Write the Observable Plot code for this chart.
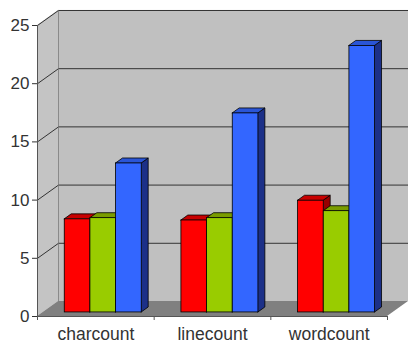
<!DOCTYPE html>
<html>
<head>
<meta charset="utf-8">
<script src="https://cdn.jsdelivr.net/npm/d3@7"></script>
<script src="https://cdn.jsdelivr.net/npm/@observablehq/plot@0.6"></script>
<style>
  html, body { margin: 0; padding: 0; background: #fff; }
</style>
</head>
<body>
<div id="chart"></div>
<script>
// ---- data ----
const categories = ["charcount", "linecount", "wordcount"];
const seriesRed = [8.0, 7.9, 9.6];
const seriesGreen = [8.1, 8.1, 8.7];
const seriesBlue = [12.8, 17.1, 22.9];
const yTicks = [0, 5, 10, 15, 20, 25];

// ---- styling / geometry (data units) ----
const frontColors = ["#ff0000", "#99cc00", "#3366ff"];
const topColors = ["#c80000", "#7a9c00", "#2a55d6"];
const sideColors = ["#960000", "#5a7400", "#1c3088"];
const DX = 0.18, DY = 1.29;        // full box depth offset
const F = 0.27, B = 0.60;          // bar front / back depth fractions
const barW = 0.22;
const yMax = yTicks[yTicks.length - 1];
const nCat = categories.length;

const allSeries = [seriesRed, seriesGreen, seriesBlue];
const fronts = [], tops = [], sides = [];
categories.forEach((c, i) => {
  allSeries.forEach((vals, j) => {
    const v = vals[i];
    const id = c + "-" + j;
    const x1 = i + 0.5 - (barW * allSeries.length) / 2 + j * barW + F * DX + 0.015;
    const x2 = x1 + barW;
    const sx = (B - F) * DX;
    fronts.push({id, x1, x2, y1: F * DY, y2: v + F * DY, fill: frontColors[j]});
    tops.push({id, y: v + F * DY, x1, x2, fill: topColors[j]});
    tops.push({id, y: v + B * DY, x1: x1 + sx, x2: x2 + sx, fill: topColors[j]});
    sides.push({id, x: x2, y1: F * DY, y2: v + F * DY, fill: sideColors[j]});
    sides.push({id, x: x2 + sx, y1: B * DY, y2: v + B * DY, fill: sideColors[j]});
  });
});

const leftWall = [
  {x: 0, y1: 0, y2: yMax},
  {x: DX, y1: DY, y2: yMax + DY}
];
const floor = [
  {y: 0, x1: 0, x2: nCat},
  {y: DY, x1: DX, x2: nCat + DX}
];
const backWall = [{x1: DX, x2: nCat + DX, y1: DY, y2: yMax + DY}];

const chart = Plot.plot({
  width: 408,
  height: 350,
  marginLeft: 37,
  marginRight: 21,
  marginTop: 25,
  marginBottom: 34,
  style: {fontFamily: "'Liberation Sans', Arial, sans-serif", background: "#fff"},
  x: {type: "linear", domain: [0, nCat], axis: null},
  y: {type: "linear", domain: [0, yMax], axis: null},
  color: {type: "identity"},
  marks: [
    // back wall
    Plot.rect(backWall, {x1: "x1", x2: "x2", y1: "y1", y2: "y2", fill: "#c0c0c0"}),
    // left wall
    Plot.areaY(leftWall, {x: "x", y1: "y1", y2: "y2", fill: "#c4c4c4"}),
    // floor
    Plot.areaX(floor, {y: "y", x1: "x1", x2: "x2", fill: "#808080"}),
    // back wall gridlines
    Plot.ruleY(yTicks.slice(1), {y: d => d + DY, x1: DX, x2: nCat + DX, stroke: "#333", strokeWidth: 1}),
    // corner line between left wall and back wall
    Plot.ruleX([DX], {y1: DY, y2: yMax + DY, stroke: "#8a8a8a"}),
    // left wall diagonals
    Plot.link(yTicks.slice(1), {x1: () => 0, y1: d => d, x2: () => DX, y2: d => d + DY, stroke: "#333", strokeWidth: 1}),
    // bars: sides, tops, fronts
    Plot.areaY(sides, {x: "x", y1: "y1", y2: "y2", z: "id", fill: "fill", stroke: "#000", strokeWidth: 0.8}),
    Plot.areaX(tops, {y: "y", x1: "x1", x2: "x2", z: "id", fill: "fill", stroke: "#000", strokeWidth: 0.8}),
    Plot.rect(fronts, {x1: "x1", x2: "x2", y1: "y1", y2: "y2", fill: "fill", stroke: "#000", strokeWidth: 0.8}),
    // axis lines
    Plot.ruleX([0], {y1: 0, y2: yMax, stroke: "#555"}),
    Plot.ruleY([0], {x1: 0, x2: nCat, stroke: "#555"}),
    // y axis ticks + labels
    Plot.axisY(yTicks, {anchor: "left", tickSize: 5, tickPadding: 3, fontSize: 17, color: "#333"}),
    // category boundary ticks
    Plot.axisX(d3.range(nCat + 1), {anchor: "bottom", tickSize: 4, tickFormat: () => "", color: "#555"}),
    // category labels
    Plot.axisX(categories.map((c, i) => i + 0.5), {anchor: "bottom", tickSize: 0, tickPadding: 11, fontSize: 17.5, color: "#333", tickFormat: d => categories[Math.floor(d)]})
  ]
});
document.getElementById("chart").appendChild(chart);
</script>
</body>
</html>
